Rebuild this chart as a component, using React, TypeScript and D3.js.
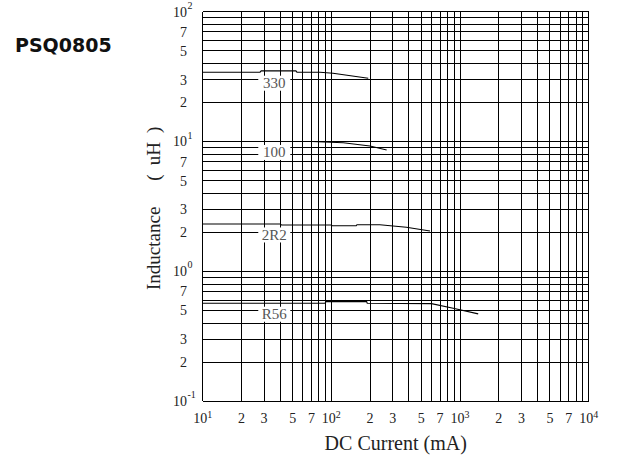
import React from "react";
import * as d3 from "d3";

// ---- data ----
const xDecades = [10, 100, 1000];
const yDecades = [0.1, 1, 10];
const xTickLabels = [
  { v: 10, base: "10", sup: "1" },
  { v: 20, base: "2", sup: "" },
  { v: 30, base: "3", sup: "" },
  { v: 50, base: "5", sup: "" },
  { v: 70, base: "7", sup: "" },
  { v: 100, base: "10", sup: "2" },
  { v: 200, base: "2", sup: "" },
  { v: 300, base: "3", sup: "" },
  { v: 500, base: "5", sup: "" },
  { v: 700, base: "7", sup: "" },
  { v: 1000, base: "10", sup: "3" },
  { v: 2000, base: "2", sup: "" },
  { v: 3000, base: "3", sup: "" },
  { v: 5000, base: "5", sup: "" },
  { v: 7000, base: "7", sup: "" },
  { v: 10000, base: "10", sup: "4" },
];
const yTickLabels = [
  { v: 100, base: "10", sup: "2" },
  { v: 70, base: "7", sup: "" },
  { v: 50, base: "5", sup: "" },
  { v: 30, base: "3", sup: "" },
  { v: 20, base: "2", sup: "" },
  { v: 10, base: "10", sup: "1" },
  { v: 7, base: "7", sup: "" },
  { v: 5, base: "5", sup: "" },
  { v: 3, base: "3", sup: "" },
  { v: 2, base: "2", sup: "" },
  { v: 1, base: "10", sup: "0" },
  { v: 0.7, base: "7", sup: "" },
  { v: 0.5, base: "5", sup: "" },
  { v: 0.3, base: "3", sup: "" },
  { v: 0.2, base: "2", sup: "" },
  { v: 0.1, base: "10", sup: "-1" },
];

const current330 = [10, 27.9, 28.5, 53, 54, 81.5, 103, 193.5];
const ind330 = [34.2, 34.2, 35, 35, 34.2, 34.2, 33.6, 30.7];

const current100 = [39.9, 70.3, 123.7, 199.5, 269];
const ind100 = [10.02, 10.02, 9.8, 9.25, 8.6];

const current2R2 = [10, 40, 41, 100, 101, 156, 158, 238, 383, 584];
const ind2R2 = [2.32, 2.32, 2.28, 2.28, 2.25, 2.25, 2.29, 2.29, 2.19, 2.05];

const currentR56 = [10, 89, 91, 188, 190, 600, 885, 1384];
const indR56 = [0.569, 0.569, 0.585, 0.585, 0.569, 0.565, 0.521, 0.471];

const seriesNames = ["330", "100", "2R2", "R56"];
const labelCurrent = 36;

export default function App() {
  const W = 617;
  const H = 459;
  const x = d3.scaleLog().domain([10, 10000]).range([202.7, 588.7]);
  const y = d3.scaleLog().domain([0.1, 100]).range([401.3, 11.7]);

  const xGrid: number[] = [];
  xDecades.forEach((d) => {
    for (let m = 1; m <= 9; m++) xGrid.push(d * m);
  });
  xGrid.push(10000);
  const yGrid: number[] = [];
  yDecades.forEach((d) => {
    for (let m = 1; m <= 9; m++) yGrid.push(d * m);
  });
  yGrid.push(100);

  const series = [
    { name: seriesNames[0], c: current330, l: ind330 },
    { name: seriesNames[1], c: current100, l: ind100 },
    { name: seriesNames[2], c: current2R2, l: ind2R2 },
    { name: seriesNames[3], c: currentR56, l: indR56 },
  ];
  const line = d3
    .line<[number, number]>()
    .x((d) => x(d[0]))
    .y((d) => y(d[1]));

  const [x0, x1] = x.range();
  const [y0, y1] = y.range();
  const serif = "'Liberation Serif', 'Times New Roman', serif";

  return (
    <svg
      width={W}
      height={H}
      style={{ position: "absolute", left: 0, top: 0, background: "#fff" }}
    >
      <rect x={0} y={0} width={W} height={H} fill="#fff" />
      <text
        x={15}
        y={52}
        fontFamily="'DejaVu Sans', sans-serif"
        fontWeight="bold"
        fontSize={19}
        fill="#111"
      >
        PSQ0805
      </text>

      {/* grid */}
      <g stroke="#000" strokeWidth={1} shapeRendering="crispEdges">
        {xGrid.map((v, i) => (
          <line key={"x" + i} x1={x(v)} x2={x(v)} y1={y1} y2={y0} />
        ))}
        {yGrid.map((v, i) => (
          <line key={"y" + i} x1={x0} x2={x1} y1={y(v)} y2={y(v)} />
        ))}
      </g>

      {/* curves */}
      <g fill="none" stroke="#000" strokeWidth={1.1}>
        {series.map((s) => (
          <path
            key={s.name}
            d={line(s.c.map((c, i) => [c, s.l[i]] as [number, number])) || ""}
          />
        ))}
      </g>

      {/* curve labels */}
      {series.map((s) => {
        const cx = x(labelCurrent);
        const cy = y(s.l[0]) + 10.5;
        return (
          <g key={"lab" + s.name}>
            <rect x={cx - 16} y={cy - 7} width={32} height={15} fill="#fff" />
            <text
              x={cx}
              y={cy}
              dy="0.35em"
              textAnchor="middle"
              fontFamily={serif}
              fontSize={15}
              fill="#555"
            >
              {s.name}
            </text>
          </g>
        );
      })}

      {/* y tick labels */}
      {yTickLabels.map((t, i) => (
        <g key={"yl" + i}>
          <text
            x={187}
            y={y(t.v)}
            dy="0.35em"
            textAnchor="end"
            fontFamily={serif}
            fontSize={14}
            fill="#222"
          >
            {t.base}
          </text>
          {t.sup && (
            <text
              x={187.5}
              y={y(t.v) - 3}
              fontFamily={serif}
              fontSize={10}
              fill="#222"
            >
              {t.sup}
            </text>
          )}
        </g>
      ))}

      {/* x tick labels */}
      {xTickLabels.map((t, i) => (
        <text
          key={"xl" + i}
          x={x(t.v)}
          y={423}
          textAnchor="middle"
          fontFamily={serif}
          fontSize={14}
          fill="#222"
        >
          {t.base}
          {t.sup && (
            <tspan fontSize={10} dy={-5}>
              {t.sup}
            </tspan>
          )}
        </text>
      ))}

      {/* axis titles */}
      <text
        x={(x0 + x1) / 2}
        y={450}
        textAnchor="middle"
        fontFamily={serif}
        fontSize={20}
        fill="#222"
      >
        DC Current (mA)
      </text>
      <text
        transform={`translate(160, 290) rotate(-90)`}
        textAnchor="start"
        fontFamily={serif}
        fontSize={19}
        fill="#222"
      >
        Inductance
        <tspan dx={26}>(</tspan>
        <tspan dx={9}>uH</tspan>
        <tspan dx={9}>)</tspan>
      </text>
    </svg>
  );
}
